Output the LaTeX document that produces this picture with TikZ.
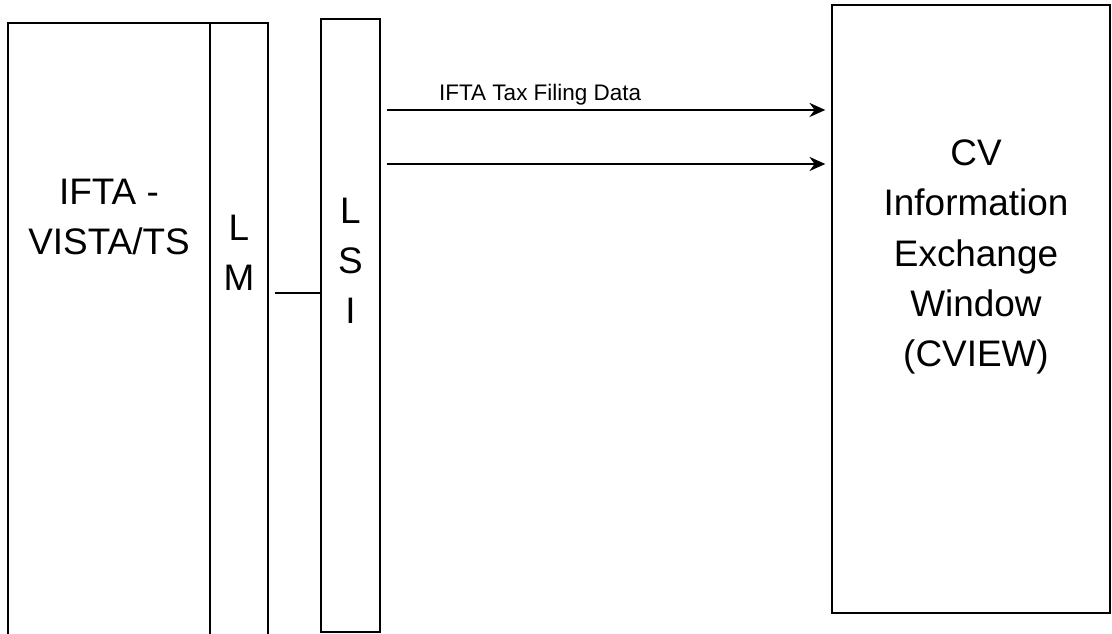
\documentclass[tikz,border=0pt]{standalone}
\usepackage{fontspec}
\setmainfont{Liberation Sans}
\usetikzlibrary{arrows.meta}
\begin{document}
\begin{tikzpicture}[x=1.0cm,y=1.0cm,
    box/.style={draw,line width=1.6pt,rectangle,inner sep=0pt},
    bigtxt/.style={align=center,font=\fontsize{21}{28.5}\selectfont},
    flow/.style={line width=1.3pt,-{Stealth[length=9pt,width=8pt]}}]
  \useasboundingbox (0,0) rectangle (22.24,12.68);
  \clip (0,0) rectangle (22.24,12.68);
  % systems
  \node[box,minimum width=4.04cm,minimum height=12.52cm] (vista) at (2.18,5.96) {};
  \node[box,minimum width=1.16cm,minimum height=12.52cm] (lm)    at (4.78,5.96) {};
  \node[box,minimum width=1.18cm,minimum height=12.26cm] (lsi)   at (7.01,6.17) {};
  \node[box,minimum width=5.56cm,minimum height=12.16cm] (cview) at (19.42,6.50) {};
  \node[bigtxt] (vistatxt) at (2.18,8.34)  {IFTA -\\VISTA/TS};
  \node[bigtxt] (lmtxt)    at (4.78,7.62)  {L\\M};
  \node[bigtxt] (lsitxt)   at (7.01,7.46)  {L\\S\\I};
  \node[bigtxt] (cviewtxt) at (19.52,7.54) {CV\\Information\\Exchange\\Window\\(CVIEW)};
  % links
  \coordinate (link) at (5.36,6.82);
  \draw[line width=1.3pt] ([xshift=3pt]lm.east |- link) -- (lsi.west |- link);
  \coordinate (tax)  at (0,10.48);
  \coordinate (more) at (0,9.40);
  \draw[flow] ([xshift=3pt]lsi.east |- tax) -- ([xshift=-3pt]cview.west |- tax)
    node[pos=0.35,above=-1pt,font=\fontsize{12.8}{15}\selectfont] {IFTA Tax Filing Data};
  \draw[flow] ([xshift=3pt]lsi.east |- more) -- ([xshift=-3pt]cview.west |- more);
\end{tikzpicture}
\end{document}
